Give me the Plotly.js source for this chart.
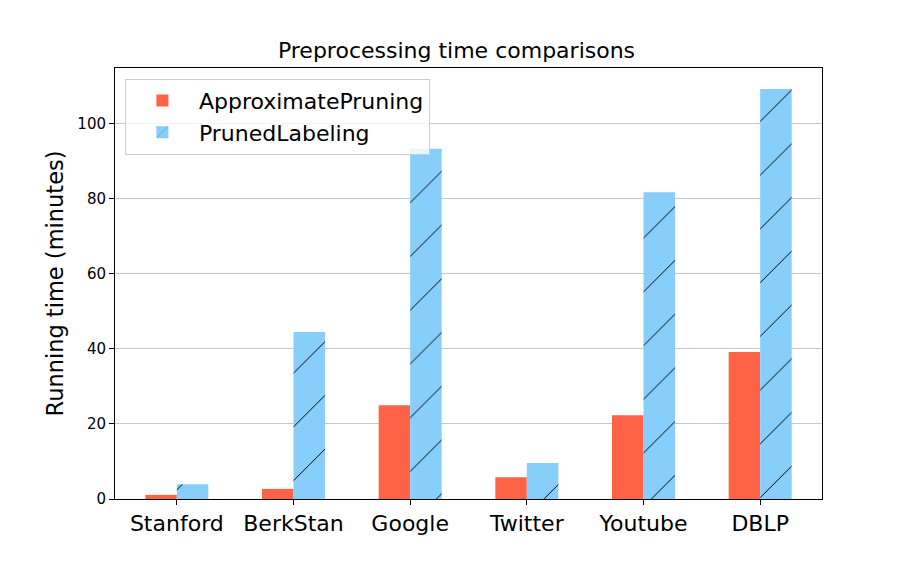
<!DOCTYPE html>
<html>
<head>
<meta charset="utf-8">
<script src="https://cdn.plot.ly/plotly-3.0.1.min.js"></script>
<style>
  body { margin: 0; background: #fff; }
  #chart { width: 913px; height: 571px; }
</style>
</head>
<body>
<div id="chart"></div>
<script>
const datasets = ["Stanford", "BerkStan", "Google", "Twitter", "Youtube", "DBLP"];
const approxPruning = [1.1, 2.7, 25.0, 5.8, 22.3, 39.2];
const prunedLabeling = [3.9, 44.5, 93.4, 9.6, 81.8, 109.3];
const yTicks = [0, 20, 40, 60, 80, 100];

const font = "DejaVu Sans, sans-serif";

const traces = [
  {
    type: "bar",
    name: "ApproximatePruning",
    x: datasets,
    y: approxPruning,
    marker: { color: "#FF6347", line: { width: 0 } }
  },
  {
    type: "bar",
    name: "PrunedLabeling",
    x: datasets,
    y: prunedLabeling,
    marker: {
      color: "#87CEFA",
      line: { width: 0 },
      pattern: { shape: "/", fgcolor: "#000", bgcolor: "#87CEFA", size: 38, solidity: 0.025 }
    }
  }
];

const layout = {
  width: 913,
  height: 571,
  margin: { l: 115, r: 91, t: 68, b: 72 },
  paper_bgcolor: "#fff",
  plot_bgcolor: "#fff",
  font: { family: font, color: "#000" },
  title: { text: "Preprocessing time comparisons", font: { size: 22 }, x: 0.5, xanchor: "center", y: 0.912, yanchor: "middle" },
  barmode: "group",
  bargap: 0.46,
  bargroupgap: 0,
  showlegend: true,
  legend: {
    x: 0.014, y: 0.975, xanchor: "left", yanchor: "top",
    bgcolor: "rgba(255,255,255,0.8)", bordercolor: "#ccc", borderwidth: 1,
    font: { size: 22 }, itemwidth: 63, tracegroupgap: 4
  },
  xaxis: {
    type: "category",
    range: [-0.53, 5.53],
    showline: true, linecolor: "#000", linewidth: 1, mirror: true,
    ticks: "outside", ticklen: 5, tickcolor: "#000",
    tickfont: { size: 22 },
    showgrid: false, zeroline: false
  },
  yaxis: {
    range: [0, 114.9],
    tickvals: yTicks,
    ticktext: yTicks.map(String),
    showline: true, linecolor: "#000", linewidth: 1, mirror: true,
    ticks: "outside", ticklen: 5, tickcolor: "#000",
    tickfont: { size: 15 },
    showgrid: true, gridcolor: "#c8c8c8", gridwidth: 1,
    zeroline: false,
    layer: "above traces",
    title: { text: "Running time (minutes)", font: { size: 22.5 }, standoff: 7 }
  }
};

Plotly.newPlot("chart", traces, layout, { displayModeBar: false, staticPlot: true });
</script>
</body>
</html>
